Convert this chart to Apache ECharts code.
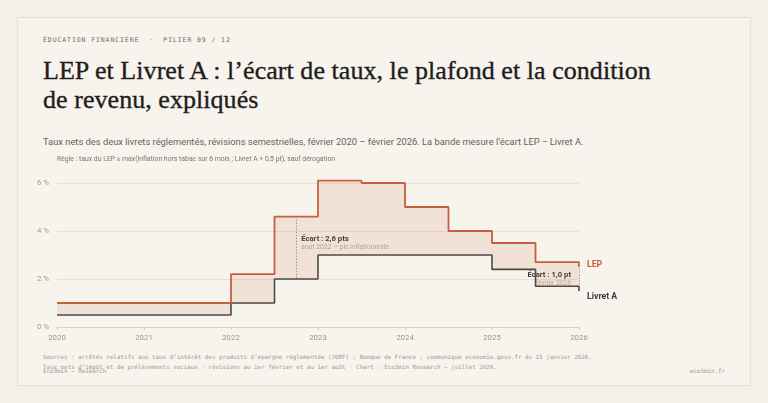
<!DOCTYPE html>
<html lang="fr">
<head>
<meta charset="utf-8">
<script src="https://cdn.jsdelivr.net/npm/echarts@6/dist/echarts.min.js"></script>
<style>
  html, body { margin:0; padding:0; }
  body { width:768px; height:403px; background:#f3f0e9; position:relative; overflow:hidden; }
  .card { position:absolute; left:17px; top:17px; width:734px; height:369px; box-sizing:border-box;
          border:1px solid #e5e0d6; background:#f7f4ee; }
  .t { position:absolute; white-space:pre; }
  .eyebrow { left:43px; top:36px; font:6.5px 'DejaVu Sans Mono', monospace; letter-spacing:0.9px; color:#6f6a63; }
  .title { left:43px; top:57px; font:26px/28.6px 'Liberation Serif', serif; color:#1f1d1b; letter-spacing:0.05px;
           -webkit-text-stroke:0.35px #1f1d1b; }
  .sub { left:43px; top:135.5px; font:9.35px/12px Roboto, sans-serif; color:#67625b; }
  .foot { font:5.85px/8px 'DejaVu Sans Mono', monospace; color:#a09a91; }
  #chart { position:absolute; left:0; top:0; width:768px; height:403px; }
</style>
</head>
<body>
<div class="card"></div>
<div class="t eyebrow">ÉDUCATION FINANCIÈRE  ·  PILIER 09 / 12</div>
<div class="t title">LEP et Livret A : l’écart de taux, le plafond et la condition
de revenu, expliqués</div>
<div class="t sub">Taux nets des deux livrets réglementés, révisions semestrielles, février 2020 – février 2026. La bande mesure l’écart LEP − Livret A.</div>
<div class="t foot" style="left:43px;top:353px">Sources : arrêtés relatifs aux taux d’intérêt des produits d’épargne réglementée (JORF) ; Banque de France ; communiqué economie.gouv.fr du 15 janvier 2026.</div>
<div class="t foot" style="left:43px;top:362.5px">Taux nets d’impôt et de prélèvements sociaux · révisions au 1er février et au 1er août · Chart : Eco3min Research — juillet 2026.</div>
<div class="t foot" style="left:43px;top:366.5px">Eco3min — Research</div>
<div class="t foot" style="right:43px;top:367px">eco3min.fr</div>
<div id="chart"></div>
<script>
// ---- data ----
const dates   = [2020, 2022, 2022.5, 2023, 2023.5, 2024, 2024.5, 2025, 2025.5, 2026];
const lepRate = [1.0, 2.2, 4.6, 6.1, 6.0, 5.0, 4.0, 3.5, 2.7, 2.5];
const laRate  = [0.5, 1.0, 2.0, 3.0, 3.0, 3.0, 3.0, 2.4, 1.7, 1.5];
const yTicks  = [0, 2, 4, 6];
const xTicks  = [2020, 2021, 2022, 2023, 2024, 2025, 2026];
const annotDates  = [2022.75, 2026];
const annotTitles = ['Écart : 2,6 pts', 'Écart : 1,0 pt'];
const annotNotes  = ['août 2022 — pic inflationniste', 'février 2026'];
const seriesNames = ['LEP', 'Livret A'];
const ruleText = 'Règle : taux du LEP ≥ max(inflation hors tabac sur 6 mois ; Livret A + 0,5 pt), sauf dérogation';

// ---- helpers ----
function heldValue(arr, x) {            // value in force just before x (step 'end')
  let idx = 0;
  for (let i = 0; i < dates.length; i++) if (dates[i] < x) idx = i;
  return arr[idx];
}
const lepData = dates.map((d, i) => [d, lepRate[i]]);
const laData  = dates.map((d, i) => [d, laRate[i]]);
const bandData = dates.slice(0, -1).map((d, i) => [d, dates[i + 1], laRate[i], lepRate[i]]);

const LEP_C = '#c6603c', LA_C = '#4d4946', AX_C = '#9b968e';

const chart = echarts.init(document.getElementById('chart'), null, { renderer: 'canvas' });
chart.setOption({
  animation: false,
  backgroundColor: 'transparent',
  grid: { left: 57, top: 183, width: 522, height: 144, containLabel: false },
  xAxis: {
    type: 'value', min: xTicks[0], max: xTicks[xTicks.length - 1], interval: 1,
    axisLine: { show: true, lineStyle: { color: '#d5cfc5', width: 1 } },
    axisTick: { show: true, length: 3, lineStyle: { color: '#d5cfc5' } },
    splitLine: { show: false },
    axisLabel: { color: AX_C, fontSize: 7.8, fontFamily: 'Roboto', margin: 7,
                 formatter: v => String(v) }
  },
  yAxis: {
    type: 'value', min: yTicks[0], max: yTicks[yTicks.length - 1], interval: yTicks[1] - yTicks[0],
    axisLine: { show: false }, axisTick: { show: false },
    splitLine: { show: true, lineStyle: { color: '#e6e1d8', width: 1 } },
    axisLabel: { color: AX_C, fontSize: 7.8, fontFamily: 'Roboto', margin: 8,
                 formatter: v => v + ' %' }
  },
  series: [
    {
      name: 'écart', type: 'custom', data: bandData, z: 1, silent: true, clip: false,
      encode: { x: [0, 1], y: [2, 3] },
      renderItem: (params, api) => {
        const p0 = api.coord([api.value(0), api.value(3)]);
        const p1 = api.coord([api.value(1), api.value(2)]);
        return { type: 'rect',
                 shape: { x: p0[0], y: p0[1], width: p1[0] - p0[0], height: p1[1] - p0[1] },
                 style: { fill: 'rgba(200,98,63,0.13)' } };
      }
    },
    {
      name: seriesNames[1], type: 'line', step: 'end', data: laData,
      symbol: 'none', clip: false, z: 3,
      lineStyle: { color: LA_C, width: 1.6 },
      markLine: {
        silent: true, symbol: ['none', 'none'], label: { show: false },
        lineStyle: { color: '#9f9991', width: 1, type: [1.5, 1.5] },
        data: annotDates.map(d => [
          { coord: [d, heldValue(lepRate, d)] },
          { coord: [d, heldValue(laRate, d)] }
        ])
      }
    },
    {
      name: seriesNames[0], type: 'line', step: 'end', data: lepData,
      symbol: 'none', clip: false, z: 4,
      lineStyle: { color: LEP_C, width: 1.8 }
    }
  ]
});

// ---- texts anchored on data ----
function px(x, y) { return chart.convertToPixel({ gridIndex: 0 }, [x, y]); }
const last = dates.length - 1;
const lepEnd = px(dates[last], lepRate[last]);
const laEnd  = px(dates[last], laRate[last]);
const a1 = px(annotDates[0], heldValue(lepRate, annotDates[0]));
const a2 = px(annotDates[1], heldValue(lepRate, annotDates[1]));

const graphics = [
  { type: 'text', left: 57, top: 156, style: { text: ruleText, fill: '#7a756e', font: '6.85px Roboto' } },
  { type: 'text', x: lepEnd[0] + 8, y: lepEnd[1] - 2,
    style: { text: seriesNames[0], fill: LEP_C, font: 'bold 8.7px Roboto', verticalAlign: 'middle' } },
  { type: 'text', x: laEnd[0] + 8, y: laEnd[1] + 6,
    style: { text: seriesNames[1], fill: '#3f3c39', font: 'bold 8.7px Roboto', verticalAlign: 'middle' } },
  { type: 'text', x: a1[0] + 5, y: a1[1] + 22,
    style: { text: annotTitles[0], fill: '#3a3733', font: 'bold 7.7px Roboto', verticalAlign: 'middle' } },
  { type: 'text', x: a1[0] + 5, y: a1[1] + 31,
    style: { text: annotNotes[0], fill: '#b0aaa2', font: '6.7px Roboto', verticalAlign: 'middle' } },
  { type: 'text', x: a2[0] - 8, y: a2[1] + 12.5,
    style: { text: annotTitles[1], fill: '#3a3733', font: 'bold 7.7px Roboto', align: 'right', verticalAlign: 'middle' } },
  { type: 'text', x: a2[0] - 8, y: a2[1] + 21,
    style: { text: annotNotes[1], fill: '#b9b3ab', font: '6.7px Roboto', align: 'right', verticalAlign: 'middle' } }
];
chart.setOption({ graphic: graphics });
</script>
</body>
</html>
